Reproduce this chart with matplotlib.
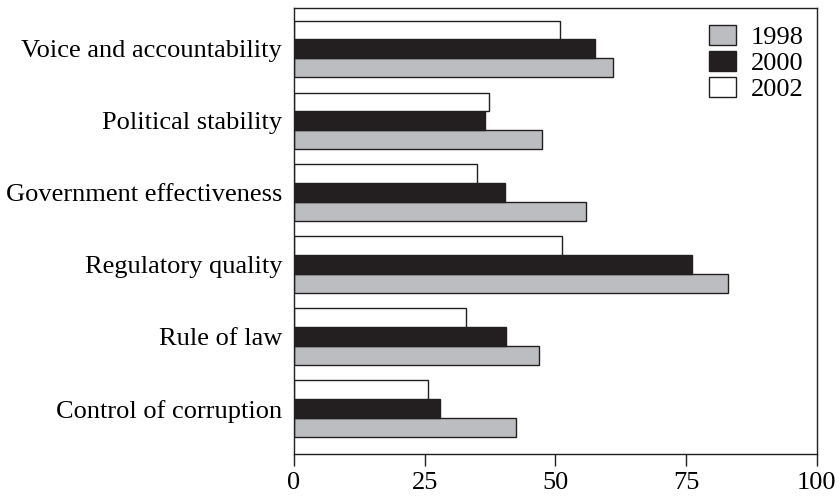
import matplotlib
matplotlib.use("Agg")
import matplotlib.pyplot as plt
import numpy as np

plt.rcParams['font.family'] = ['Liberation Serif', 'DejaVu Serif']

categories = ["Voice and accountability", "Political stability",
              "Government effectiveness", "Regulatory quality",
              "Rule of law", "Control of corruption"]
years = ["1998", "2000", "2002"]
v1998 = [61.1, 47.5, 55.8, 83.1, 46.9, 42.4]
v2000 = [57.5, 36.6, 40.4, 76.1, 40.6, 28.0]
v2002 = [50.8, 37.4, 35.1, 51.2, 32.9, 25.6]
xticks = [0, 25, 50, 75, 100]

edge = '#231f20'
colors = ['#bcbdc0', '#231f20', '#ffffff']

fig = plt.figure(figsize=(8.4, 4.96), dpi=100)
ax = fig.add_axes([0.35, 0.0837, 0.6222, 0.8996])

# first category at top
y = np.arange(len(categories))[::-1]
h = 0.2625
for vals, off, col, lab in zip([v1998, v2000, v2002], [-h, 0, h], colors, years):
    ax.barh(y + off, vals, height=h, color=col, edgecolor=edge,
            linewidth=1.0, label=lab)

ax.set_xlim(0, 100)
ax.set_ylim(-0.639, 5.565)
ax.set_xticks(xticks)
ax.set_xticklabels([str(t) for t in xticks])
ax.set_yticks(y)
ax.set_yticklabels(categories)
ax.tick_params(axis='x', length=8.3, width=1, color=edge, labelsize=19, pad=4)
ax.tick_params(axis='y', length=0, labelsize=19, pad=8.6)
for s in ax.spines.values():
    s.set_linewidth(1)
    s.set_color(edge)

handles, labels = ax.get_legend_handles_labels()
ax.legend(handles, labels, loc='upper left', bbox_to_anchor=(0.7945, 0.962),
          frameon=False, fontsize=19, handlelength=1.02, handleheight=0.78,
          handletextpad=0.55, labelspacing=0.07, borderpad=0, borderaxespad=0)

fig.savefig("out.png", dpi=100)
